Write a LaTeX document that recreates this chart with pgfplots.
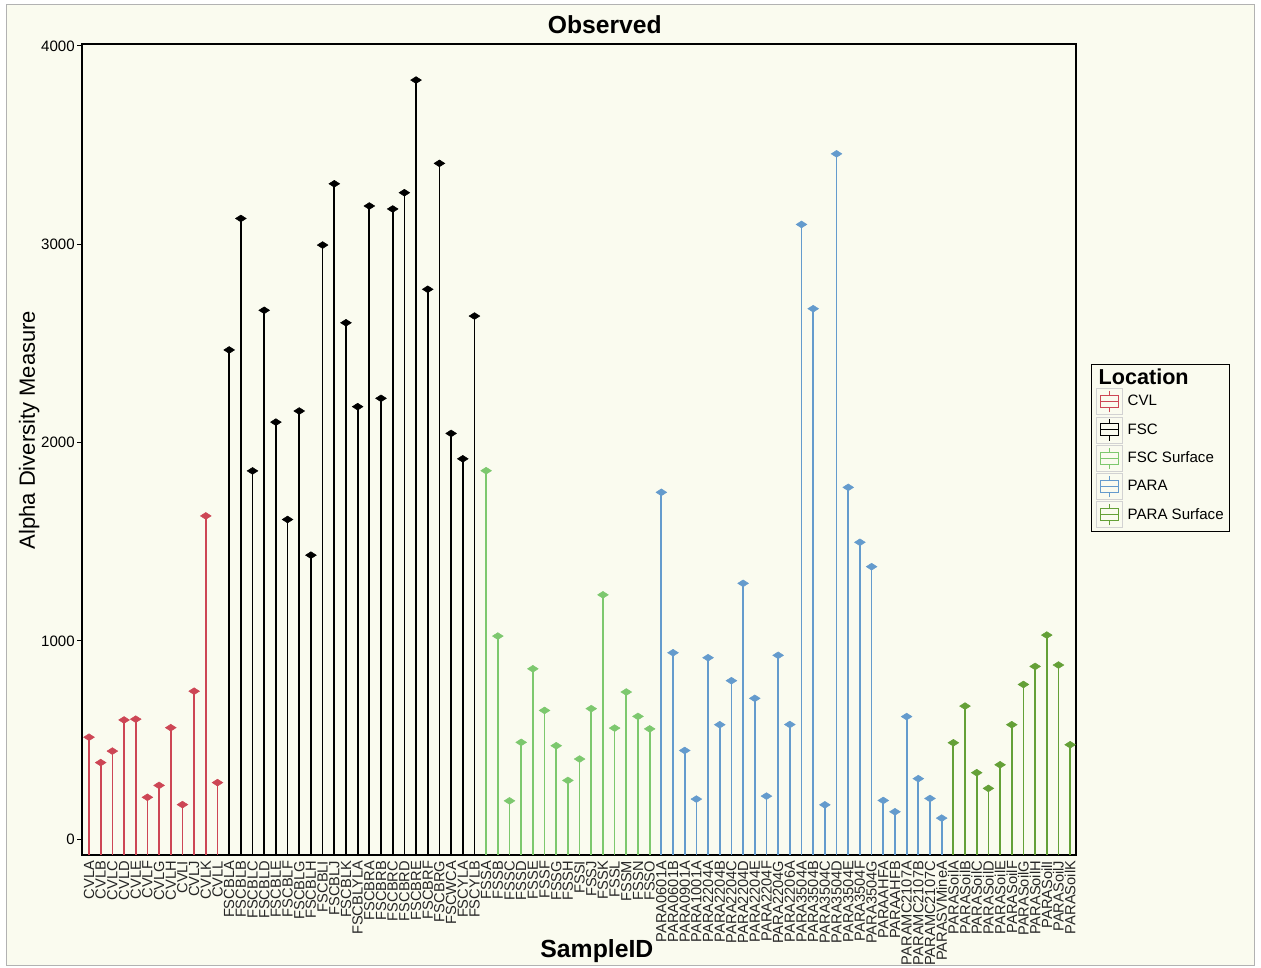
\documentclass[border=0pt]{standalone}
\usepackage{pgfplots}
\pgfplotsset{compat=1.18}
\usepackage{pgfplotstable}
\usepackage{fontspec}
\setmainfont{Liberation Sans}
\definecolor{bg}{RGB}{250,251,239}
\definecolor{cvl}{RGB}{205,70,85}
\definecolor{fsc}{RGB}{0,0,0}
\definecolor{fss}{RGB}{125,200,110}
\definecolor{para}{RGB}{100,155,205}
\definecolor{paras}{RGB}{100,160,55}

\pgfplotstableread{
i v
0 514
1 386
2 444
3 601
4 605
5 211
6 271
7 562
8 174
9 746
10 1630
11 285
}\cvldata
\pgfplotstableread{
i v
12 2467
13 3130
14 1857
15 2667
16 2103
17 1612
18 2159
19 1432
20 2996
21 3305
22 2604
23 2181
24 3193
25 2223
26 3178
27 3260
28 3828
29 2773
30 3408
31 2046
32 1918
33 2638
}\fscdata
\pgfplotstableread{
i v
34 1858
35 1024
36 193
37 488
38 859
39 649
40 471
41 296
42 404
43 658
44 1232
45 560
46 742
47 619
48 556
}\fssdata
\pgfplotstableread{
i v
49 1749
50 940
51 447
52 202
53 915
54 577
55 799
56 1290
57 710
58 217
59 927
60 578
61 3100
62 2675
63 173
64 3456
65 1774
66 1497
67 1374
68 195
69 138
70 618
71 305
72 205
73 106
}\paradata
\pgfplotstableread{
i v
74 486
75 671
76 335
77 256
78 375
79 577
80 780
81 871
82 1029
83 878
84 476
}\parasdata

\pgfplotsset{
  stem/.style={only marks, color=#1, mark=diamond*, mark size=4pt,
    mark options={rotate=90, xscale=0.85, fill=#1, draw=#1},
    error bars/y dir=minus, error bars/y explicit, error bars/error mark=none,
    error bars/error bar style={line width=1.3pt, color=#1}},
  boxkey/.style={legend image code/.code={
    \draw[gray!35, fill=bg, line width=0.6pt] (0pt,-9.75pt) rectangle (19.5pt,9.75pt);
    \draw[#1, line width=0.75pt] (9.75pt,-8pt) -- (9.75pt,8pt);
    \draw[#1, fill=bg, line width=0.75pt] (3pt,-4.5pt) rectangle (16.5pt,4.5pt);
    \draw[#1, line width=0.75pt] (3pt,0pt) -- (16.5pt,0pt);
  }},
}

\begin{document}
\begin{tikzpicture}[x=1pt,y=1pt]
\fill[white] (0,0) rectangle (945.75,726);
\draw[gray!60, fill=bg, line width=0.75pt] (4.9,1.5) rectangle (940.5,722.25);
\useasboundingbox (0,0) rectangle (945.75,726);
\begin{axis}[
  at={(61.5pt,84.75pt)}, anchor=south west,
  scale only axis, width=745.5pt, height=608.25pt,
  xmin=-0.6, xmax=84.5, ymin=-80, ymax=4010,
  axis background/.style={fill=bg},
  axis line style={line width=1.2pt, black},
  /pgf/number format/assume math mode=true,
  /pgf/number format/1000 sep={},
  ytick={0,1000,2000,3000,4000},
  xtick={0,...,84},
  xticklabels={CVLA,CVLB,CVLC,CVLD,CVLE,CVLF,CVLG,CVLH,CVLI,CVLJ,CVLK,CVLL,FSCBLA,FSCBLB,FSCBLC,FSCBLD,FSCBLE,FSCBLF,FSCBLG,FSCBLH,FSCBLI,FSCBLJ,FSCBLK,FSCBLYLA,FSCBRA,FSCBRB,FSCBRC,FSCBRD,FSCBRE,FSCBRF,FSCBRG,FSCWCA,FSCYLA,FSCYLB,FSSA,FSSB,FSSC,FSSD,FSSE,FSSF,FSSG,FSSH,FSSI,FSSJ,FSSK,FSSL,FSSM,FSSN,FSSO,PARA0601A,PARA0601B,PARA0901A,PARA1001A,PARA2204A,PARA2204B,PARA2204C,PARA2204D,PARA2204E,PARA2204F,PARA2204G,PARA2206A,PARA3504A,PARA3504B,PARA3504C,PARA3504D,PARA3504E,PARA3504F,PARA3504G,PARAAHFA,PARAAHFB,PARAMC2107A,PARAMC2107B,PARAMC2107C,PARASVMineA,PARASoilA,PARASoilB,PARASoilC,PARASoilD,PARASoilE,PARASoilF,PARASoilG,PARASoilH,PARASoilI,PARASoilJ,PARASoilK},
  tick pos=left,
  tick align=outside,
  major tick length=3.75pt,
  tick style={black, line width=0.75pt},
  xtick style={draw=none},
  xticklabel style={rotate=90, anchor=east, font=\fontsize{11}{12}\selectfont, inner sep=0.5pt, text=black!85},
  yticklabel style={font=\fontsize{11.3}{13}\selectfont, inner sep=1.5pt},
  ylabel={Alpha Diversity Measure},
  ylabel style={at={(axis description cs:-0.0473,0.524)}, anchor=base, rotate=0, font=\fontsize{16.5}{18}\selectfont},
  xlabel={\textbf{SampleID}},
  xlabel style={at={(axis description cs:0.518,-0.127)}, anchor=base, font=\fontsize{18.6}{20}\selectfont},
  title={\textbf{Observed}},
  title style={at={(axis description cs:0.526,1.0035)}, anchor=base, font=\fontsize{18.5}{20}\selectfont},
  legend style={at={(1.0151,0.6054)}, anchor=north west, draw=black, line width=0.75pt, fill=bg,
    inner xsep=3.5pt, inner ysep=2.5pt, row sep=1.1pt, column sep=3pt,
    nodes={inner sep=0.5pt}, font=\fontsize{11.3}{13}\selectfont},
  legend cell align=left,
]
\addlegendimage{empty legend}
\addlegendentry{\hspace*{-21.75pt}\textbf{\fontsize{16.2}{18}\selectfont Location}}
\addplot[boxkey=cvl, stem=cvl] table[x=i, y=v, y error minus expr=\thisrow{v}+200] {\cvldata};
\addlegendentry{CVL}
\addplot[boxkey=fsc, stem=fsc] table[x=i, y=v, y error minus expr=\thisrow{v}+200] {\fscdata};
\addlegendentry{FSC}
\addplot[boxkey=fss, stem=fss] table[x=i, y=v, y error minus expr=\thisrow{v}+200] {\fssdata};
\addlegendentry{FSC Surface}
\addplot[boxkey=para, stem=para] table[x=i, y=v, y error minus expr=\thisrow{v}+200] {\paradata};
\addlegendentry{PARA}
\addplot[boxkey=paras, stem=paras] table[x=i, y=v, y error minus expr=\thisrow{v}+200] {\parasdata};
\addlegendentry{PARA Surface}
\end{axis}
\end{tikzpicture}
\end{document}
